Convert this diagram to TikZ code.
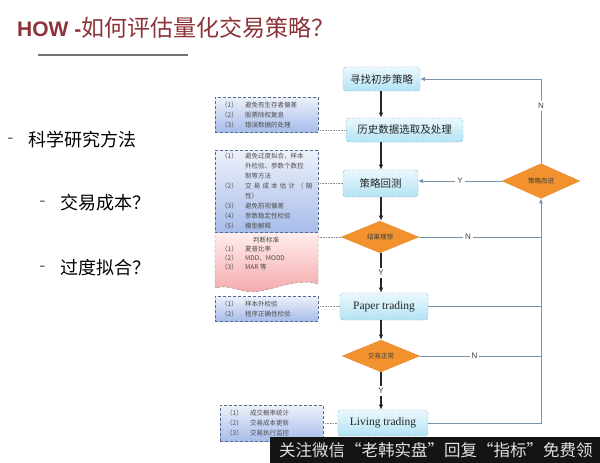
\documentclass[tikz,border=0pt]{standalone}
\usepackage{fontspec}
\newfontfamily\cjk{Noto Sans CJK SC}
\newfontfamily\hsans{Liberation Sans}
\newfontfamily\hserif{Liberation Serif}
\usetikzlibrary{arrows.meta,shapes.geometric}

\definecolor{titlered}{HTML}{8B3338}
\definecolor{boxtop}{HTML}{EAF8FD}
\definecolor{boxbot}{HTML}{B3E3F3}
\definecolor{boxline}{HTML}{7FAFC8}
\definecolor{diafill}{HTML}{F2922E}
\definecolor{dialine}{HTML}{C86A10}
\definecolor{notetop}{HTML}{EDF1FA}
\definecolor{notebot}{HTML}{A7BCEA}
\definecolor{noteline}{HTML}{56698F}
\definecolor{pinktop}{HTML}{FFEEEE}
\definecolor{pinkbot}{HTML}{F5A3A5}
\definecolor{loopline}{HTML}{7893AE}

\newcommand{\itm}[2]{\makebox[24pt][l]{#1}#2}
\newcommand{\cont}[1]{\hspace*{24pt}#1}

\begin{document}
\begin{tikzpicture}[
  x=1pt,y=-1pt,
  flow/.style={draw=boxline,densely dashed,rounded corners=3pt,top color=boxtop,bottom color=boxbot,
    font=\cjk\fontsize{10.5}{12}\selectfont,text=black!85,inner sep=0pt},
  check/.style={diamond,draw=dialine,densely dotted,fill=diafill,inner sep=0pt,
    minimum width=78pt,minimum height=32pt,font=\cjk\fontsize{6.5}{8}\selectfont,text=black!75},
  note/.style={draw=noteline,densely dashed,top color=notetop,bottom color=notebot,anchor=north west,
    align=left,text width=91pt,inner xsep=6pt,inner ysep=1pt,font=\cjk\fontsize{6.5}{10}\selectfont,text=black!70},
  main/.style={draw=black!85,line width=1.2pt,-{Latex[length=1.8mm,width=1.6mm]}},
  loop/.style={draw=loopline,line width=0.9pt},
  yn/.style={fill=white,font=\hsans\fontsize{8}{9}\selectfont,text=black!75,inner sep=2pt},
  link/.style={draw=black!45,densely dotted,line width=0.6pt},
  bullet/.style={font=\cjk\fontsize{18}{20}\selectfont,anchor=west,inner sep=0pt},
]
\fill[white] (0,0) rectangle (600,463);
\useasboundingbox (0,0) rectangle (600,463);

% title and left column
\node[anchor=west,inner sep=0pt,text=titlered] (title) at (17,28)
  {\hsans\bfseries\fontsize{21}{24}\selectfont HOW -\cjk\mdseries\fontsize{23}{24}\selectfont 如何评估量化交易策略？};
\draw[line width=2.5pt,black!55] (38,55) -- (188,55);

\node[bullet] (dash1) at (8,140) {\rmfamily -};
\node[bullet] (method) at (28,140) {科学研究方法};
\node[bullet] (dash2) at (40,203) {\rmfamily -};
\node[bullet] (cost) at (60,203) {交易成本？};
\node[bullet] (dash3) at (40,268) {\rmfamily -};
\node[bullet] (overfit) at (60,268) {过度拟合？};

% flow boxes
\coordinate (axis) at (381,0);
\node[flow,minimum width=77pt,minimum height=24pt] (start) at (381.5,79) {寻找初步策略};
\node[flow,minimum width=117pt,minimum height=24pt] (data) at (404.5,130) {历史数据选取及处理};
\node[flow,minimum width=75pt,minimum height=27pt] (test) at (380.5,183.5) {策略回测};
\node[check] (ok) at (380,237) {结果理想};
\node[flow,minimum width=88pt,minimum height=27pt,font=\hserif\fontsize{11.5}{12}\selectfont] (paper) at (384,306.5) {Paper trading};
\node[check] (normal) at (381,356) {交易正常};
\node[flow,minimum width=90pt,minimum height=26pt,font=\hserif\fontsize{11.5}{12}\selectfont] (live) at (383,423) {Living trading};
\node[check,minimum width=78pt,minimum height=35pt] (fix) at (541,181) {策略改进};

% main flow
\draw[main] (axis |- start.south) -- (axis |- data.north);
\draw[main] (axis |- data.south) -- (axis |- test.north);
\draw[main] (axis |- test.south) -- (axis |- ok.north);
\draw[main] (axis |- ok.south) -- node[yn] {Y} (axis |- paper.north);
\draw[main] (axis |- paper.south) -- (axis |- normal.north);
\draw[main] (axis |- normal.south) -- node[yn] {Y} (axis |- live.north);

% feedback loop
\draw[loop,-{Latex[length=1.6mm,width=1.5mm]}] (fix.north) |- node[yn,pos=0.34] {N} (start.east);
\draw[loop,-{Latex[length=1.6mm,width=1.5mm]}] (fix.west) -- node[yn] {Y} (fix.west -| test.east);
\draw[loop] (ok.east) -- node[yn,pos=0.4] {N} (ok.east -| fix);
\draw[loop] (paper.east) -- (paper.east -| fix);
\draw[loop] (normal.east) -- node[yn,pos=0.45] {N} (normal.east -| fix);
\draw[loop,-{Latex[length=1.6mm,width=1.5mm]}] (live.east) -| (fix.south);

% notes
\node[note,minimum height=35pt] (datanote) at (215,97)
  {\itm{（1）}{避免有生存者偏差}\\ \itm{（2）}{股票除权复息}\\ \itm{（3）}{错误数据的处理}};
\path[draw=black!45,densely dashed,top color=pinktop,bottom color=pinkbot]
  (215,232) -- (318,232) -- (318,284) .. controls (292,276) and (262,298) .. (240,290)
  .. controls (230,287) and (222,286) .. (215,288) -- cycle;
\node[note,minimum height=82pt] (testnote) at (215,150)
  {\itm{（1）}{避免过度拟合，样本}\\ \cont{外检验、参数个数控}\\ \cont{制等方法}\\
   \itm{（2）}{\makebox[58.5pt][s]{交 易 成 本 估 计 （ 随}}\\ \cont{性）}\\
   \itm{（3）}{避免前视偏差}\\ \itm{（4）}{参数稳定性检验}\\ \itm{（5）}{模型解释}};
\node[font=\cjk\fontsize{6.5}{8}\selectfont,text=black!70] (rulehead) at (266,240) {判断标准};
\node[anchor=north west,align=left,inner sep=0pt,font=\cjk\fontsize{6.5}{9}\selectfont,text=black!70] (rulelist) at (221,246)
  {\itm{（1）}{夏普比率}\\ \itm{（2）}{MDD、MODD}\\ \itm{（3）}{MAR 等}};
\coordinate (pinkedge) at (318,237);
\node[note,minimum height=25pt] (papernote) at (215,296)
  {\itm{（1）}{样本外检验}\\ \itm{（2）}{程序正确性检验}};
\node[note,minimum height=36pt] (livenote) at (220,405)
  {\itm{（1）}{成交概率统计}\\ \itm{（2）}{交易成本更新}\\ \itm{（3）}{交易执行监控}};

\draw[link] (datanote.east |- data.west) -- (data.west);
\draw[link] (testnote.east |- test.west) -- (test.west);
\draw[link] (pinkedge) -- (ok.west);
\draw[link] (papernote.east |- paper.west) -- (paper.west);
\draw[link] (livenote.east |- live.west) -- (live.west);

% banner
\fill[black!92] (270,437) rectangle (600,463);
\node[anchor=west,inner sep=0pt,text=black!12,font=\cjk\fontsize{16.5}{18}\selectfont] (banner) at (279,450.5)
  {关注微信“老韩实盘”回复“指标”免费领};
\end{tikzpicture}
\end{document}
